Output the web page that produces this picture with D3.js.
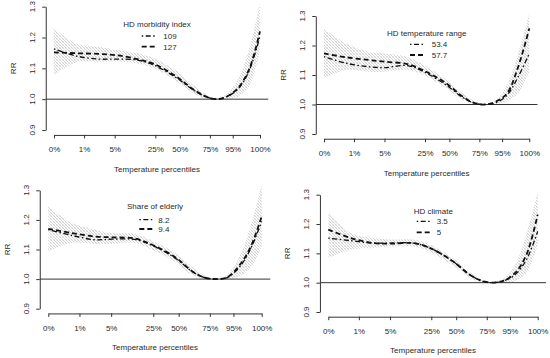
<!DOCTYPE html>
<html>
<head>
<meta charset="UTF-8">
<script src="https://cdn.jsdelivr.net/npm/d3@7"></script>
<style>
  body { margin: 0; background: #fff; }
  svg text { font-family: "Liberation Sans", Arial, sans-serif; fill: #2a2a2a; }
</style>
</head>
<body>
<svg id="chart" width="550" height="358"></svg>
<script>
// temperature grid (arbitrary degC scale) and percentile ticks
const tempGrid = [-6, -2, 2, 5, 9, 12, 16, 19, 21, 23, 25, 27, 29, 31];
const pctLabels = ["0%", "1%", "5%", "25%", "50%", "75%", "95%", "100%"];
const pctTemps = [-6.0, -0.6, 4.9, 12.2, 16.6, 22.0, 26.1, 31.0];
const rrTicks = [0.9, 1.0, 1.1, 1.2, 1.3];

// HD morbidity index
const morbLabels = ["109", "127"];
const morb109 = [1.163, 1.140, 1.130, 1.130, 1.127, 1.110, 1.069, 1.030, 1.010, 1.000, 1.008, 1.032, 1.090, 1.205];
const morb127 = [1.152, 1.149, 1.147, 1.143, 1.130, 1.114, 1.073, 1.032, 1.011, 1.000, 1.008, 1.035, 1.095, 1.220];
const morbCiLo = [1.078, 1.120, 1.120, 1.122, 1.116, 1.100, 1.057, 1.019, 1.004, 1.000, 1.000, 1.008, 1.040, 1.160];
const morbCiHi = [1.230, 1.180, 1.170, 1.160, 1.149, 1.133, 1.092, 1.046, 1.019, 1.000, 1.017, 1.062, 1.160, 1.311];

// HD temperature range
const rangeLabels = ["53.4", "57.7"];
const range534 = [1.162, 1.140, 1.128, 1.125, 1.132, 1.111, 1.066, 1.024, 1.005, 1.000, 1.006, 1.032, 1.094, 1.173];
const range577 = [1.173, 1.160, 1.151, 1.145, 1.137, 1.115, 1.072, 1.027, 1.006, 1.000, 1.010, 1.038, 1.128, 1.258];
const rangeCiLo = [1.089, 1.117, 1.111, 1.111, 1.117, 1.100, 1.055, 1.015, 1.002, 1.000, 1.000, 1.010, 1.038, 1.111];
const rangeCiHi = [1.258, 1.207, 1.179, 1.173, 1.162, 1.134, 1.085, 1.038, 1.013, 1.000, 1.015, 1.066, 1.173, 1.309];

// Share of elderly
const elderLabels = ["8.2", "9.4"];
const elder82 = [1.167, 1.148, 1.133, 1.135, 1.134, 1.114, 1.071, 1.025, 1.006, 1.000, 1.005, 1.037, 1.099, 1.195];
const elder94 = [1.170, 1.156, 1.144, 1.141, 1.137, 1.116, 1.074, 1.026, 1.006, 1.000, 1.006, 1.043, 1.105, 1.212];
const elderCiLo = [1.094, 1.122, 1.119, 1.119, 1.122, 1.099, 1.058, 1.013, 1.001, 1.000, 1.000, 1.009, 1.037, 1.111];
const elderCiHi = [1.246, 1.190, 1.167, 1.156, 1.152, 1.130, 1.088, 1.040, 1.013, 1.000, 1.015, 1.071, 1.173, 1.319];

// HD climate
const climLabels = ["3.5", "5"];
const clim35 = [1.152, 1.143, 1.135, 1.135, 1.135, 1.118, 1.073, 1.027, 1.007, 1.000, 1.006, 1.027, 1.078, 1.175];
const clim5 = [1.181, 1.152, 1.135, 1.133, 1.135, 1.118, 1.073, 1.027, 1.007, 1.000, 1.007, 1.033, 1.095, 1.232];
const climCiLo = [1.084, 1.113, 1.118, 1.124, 1.124, 1.105, 1.059, 1.016, 1.001, 1.000, 1.000, 1.005, 1.033, 1.130];
const climCiHi = [1.243, 1.169, 1.152, 1.147, 1.147, 1.130, 1.084, 1.036, 1.011, 1.000, 1.014, 1.061, 1.164, 1.311];

const panels = [
  { title: "HD morbidity index", labels: morbLabels, a: morb109, b: morb127, lo: morbCiLo, hi: morbCiHi,
    x0: 54, x1: 260, yTop: 6.7, yBot: 130,
    leg: { cx: 157, ty: 24, y1: 36, y2: 46.7, lx1: 141.7, lx2: 156.7, tx: 163.3 } },
  { title: "HD temperature range", labels: rangeLabels, a: range534, b: range577, lo: rangeCiLo, hi: rangeCiHi,
    x0: 324, x1: 529.3, yTop: 16, yBot: 134,
    leg: { cx: 426.7, ty: 33.3, y1: 44.3, y2: 55, lx1: 410, lx2: 425, tx: 431.7 } },
  { title: "Share of elderly", labels: elderLabels, a: elder82, b: elder94, lo: elderCiLo, hi: elderCiHi,
    x0: 48.3, x1: 261.7, yTop: 190.3, yBot: 308.7,
    leg: { cx: 155, ty: 206.3, y1: 219.7, y2: 229, lx1: 139.3, lx2: 153.3, tx: 158.3 } },
  { title: "HD climate", labels: climLabels, a: clim35, b: clim5, lo: climCiLo, hi: climCiHi,
    x0: 328.3, x1: 537.7, yTop: 194.7, yBot: 312,
    leg: { cx: 433.3, ty: 210.7, y1: 221.3, y2: 232.3, lx1: 416.7, lx2: 430.7, tx: 436.7 } }
];

const svg = d3.select("#chart");

// hatched confidence band
const pat = svg.append("defs").append("pattern")
  .attr("id", "hatch")
  .attr("width", 3).attr("height", 3)
  .attr("patternUnits", "userSpaceOnUse");
pat.append("path").attr("d", "M0,0 L3,3 M-1,2 L1,4 M2,-1 L4,1")
  .attr("stroke", "#b4b4b4").attr("stroke-width", 0.6);
pat.append("path").attr("d", "M0,3 L3,0 M-1,1 L1,-1 M2,4 L4,2")
  .attr("stroke", "#dcdcdc").attr("stroke-width", 0.5);

const dotDash = "1.5,2.5,5,2.5";
const dashed = "5,3";

panels.forEach(p => {
  const x = d3.scaleLinear().domain([pctTemps[0], pctTemps[pctTemps.length - 1]]).range([p.x0, p.x1]);
  const y = d3.scaleLinear().domain([0.9, 1.3]).range([p.yBot, p.yTop]);
  const padX = (p.x1 - p.x0) * 0.04;
  const padY = (p.yBot - p.yTop) * 0.04;
  const left = p.x0 - padX, right = p.x1 + padX, bottom = p.yBot + padY;

  const g = svg.append("g");

  // CI band
  const area = d3.area()
    .x((d, i) => x(tempGrid[i]))
    .y0((d, i) => y(p.lo[i]))
    .y1((d, i) => y(p.hi[i]))
    .curve(d3.curveCatmullRom.alpha(0.5));
  g.append("path").datum(p.lo).attr("d", area).attr("fill", "url(#hatch)");

  // reference line RR = 1
  g.append("line").attr("x1", left).attr("x2", right)
    .attr("y1", y(1)).attr("y2", y(1))
    .attr("stroke", "#333").attr("stroke-width", 1);

  const line = vals => d3.line()
    .x((d, i) => x(tempGrid[i]))
    .y(d => y(d))
    .curve(d3.curveCatmullRom.alpha(0.5))(vals);

  g.append("path").attr("d", line(p.a)).attr("fill", "none")
    .attr("stroke", "#111").attr("stroke-width", 1.3).attr("stroke-dasharray", dotDash);
  g.append("path").attr("d", line(p.b)).attr("fill", "none")
    .attr("stroke", "#111").attr("stroke-width", 1.8).attr("stroke-dasharray", dashed);

  // y axis
  const yAx = g.append("g").attr("transform", `translate(${left},0)`)
    .call(d3.axisLeft(y).tickValues(rrTicks).tickFormat(d3.format(".1f")).tickSize(3.5).tickSizeOuter(0));
  yAx.selectAll("text").remove();
  yAx.selectAll("path, line").attr("stroke", "#333");
  g.selectAll(".ylab").data(rrTicks).enter().append("text")
    .attr("transform", d => `translate(${left - 14},${y(d)}) rotate(-90)`)
    .attr("text-anchor", "middle").attr("dy", "0.35em")
    .attr("font-size", 8).attr("fill", "#444").text(d3.format(".1f"));

  // x axis
  const xAx = g.append("g").attr("transform", `translate(0,${bottom})`)
    .call(d3.axisBottom(x).tickValues(pctTemps).tickFormat((d, i) => pctLabels[i]).tickSize(3.5).tickSizeOuter(0));
  xAx.selectAll("path, line").attr("stroke", "#333");
  xAx.selectAll("text").attr("font-size", 8).attr("y", 14.5).attr("dy", "0.35em")
    .style("font-family", "Liberation Sans, Arial, sans-serif").attr("fill", "#2a2a2a");

  // axis titles
  g.append("text").attr("x", (p.x0 + p.x1) / 2).attr("y", bottom + 34).attr("dy", "0.35em")
    .attr("text-anchor", "middle").attr("font-size", 8).text("Temperature percentiles");
  g.append("text").attr("transform", `translate(${left - 33},${y(1.1)}) rotate(-90)`)
    .attr("text-anchor", "middle").attr("dy", "0.35em").attr("font-size", 8).text("RR");

  // legend
  const L = p.leg;
  g.append("text").attr("x", L.cx).attr("y", L.ty).attr("dy", "0.35em")
    .attr("text-anchor", "middle").attr("font-size", 8).text(p.title);
  [[L.y1, dotDash, 1.3, p.labels[0]], [L.y2, dashed, 1.8, p.labels[1]]].forEach(([ly, da, w, lab]) => {
    g.append("line").attr("x1", L.lx1).attr("x2", L.lx2).attr("y1", ly).attr("y2", ly)
      .attr("stroke", "#111").attr("stroke-width", w).attr("stroke-dasharray", da);
    g.append("text").attr("x", L.tx).attr("y", ly).attr("dy", "0.35em")
      .attr("font-size", 8).text(lab);
  });
});
</script>
</body>
</html>
